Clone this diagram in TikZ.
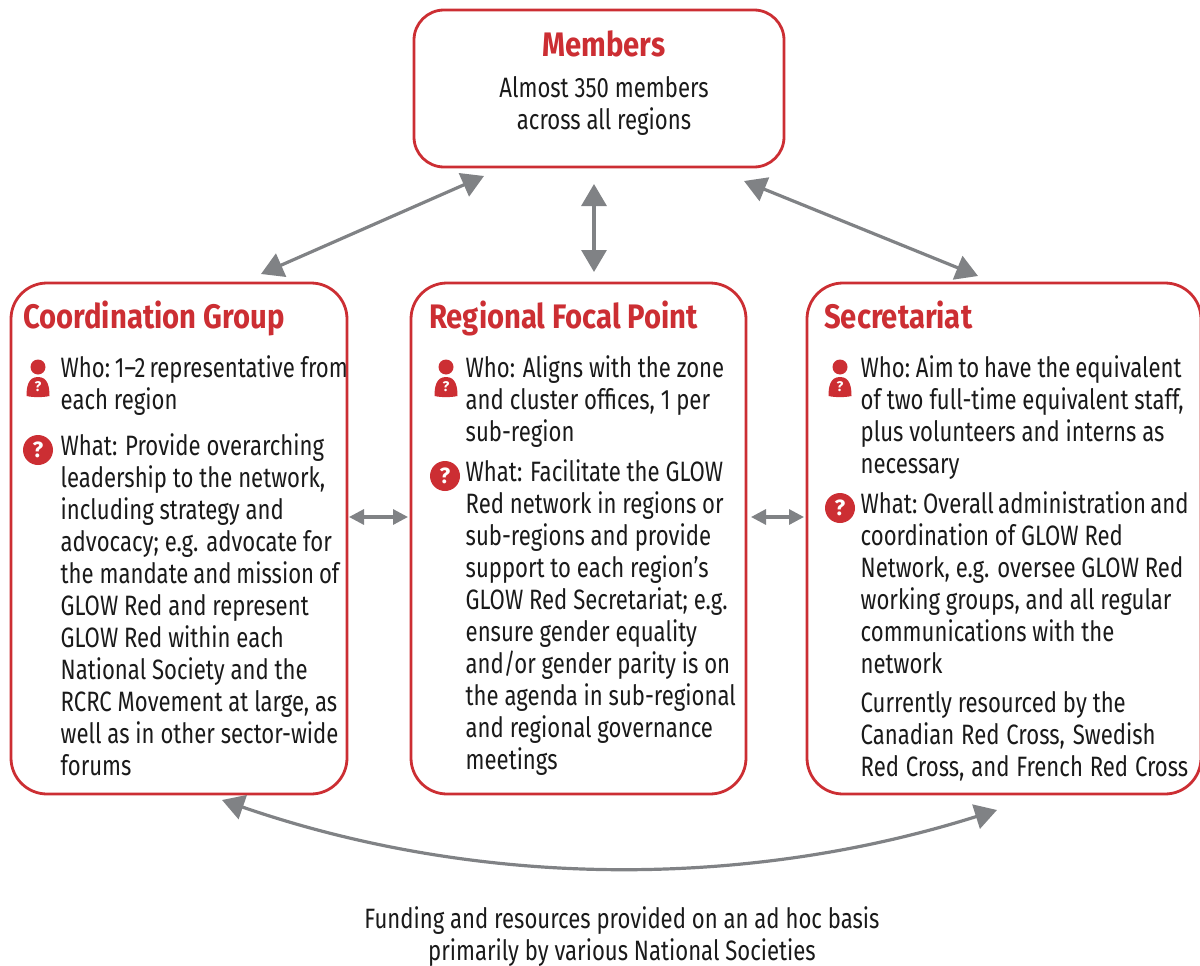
\documentclass[tikz,border=0pt]{standalone}
\usepackage{fontspec}
\usetikzlibrary{arrows.meta,calc}
\setmainfont{Fira Sans}
\newfontfamily\bodyf[FakeStretch=0.79]{Fira Sans}
\newfontfamily\headf[FakeStretch=0.86]{Fira Sans}[BoldFont={Fira Sans Bold}]
\definecolor{glowred}{HTML}{CC2E33}
\definecolor{arrowgrey}{HTML}{808285}
\definecolor{inkc}{HTML}{1A1A1A}
\tikzset{
  panel/.style={draw=glowred,line width=2.8pt,rounded corners=36pt,fill=white,inner sep=0pt,outer sep=0pt},
  title/.style={text=glowred,inner sep=0pt,font=\fontsize{34}{36}\selectfont\headf\bfseries},
  body/.style={text=inkc,inner sep=0pt,anchor=north west,align=left,font=\fontsize{28}{32}\selectfont\bodyf,execute at begin node={\rule{0pt}{22pt}}},
  centred/.style={text=inkc,inner sep=0pt,anchor=north,align=center,font=\fontsize{28}{32}\selectfont\bodyf,execute at begin node={\rule{0pt}{22pt}}},
  bigarrow/.style={draw=arrowgrey,line width=3.2pt,{Triangle[length=22pt,width=25pt]}-{Triangle[length=22pt,width=25pt]}},
  smallarrow/.style={draw=arrowgrey,line width=3.2pt,{Triangle[length=15pt,width=15pt]}-{Triangle[length=15pt,width=15pt]}},
  qmark/.style={text=white,inner sep=0pt,font=\fontsize{#1}{#1}\selectfont\bfseries},
}
\newcommand{\whoicon}[3]{%
  \fill[glowred] (#2,#3) circle[radius=7.5];
  \fill[glowred] (#2-11.5,#3+29) .. controls (#2-11.5,#3+20) and (#2-10,#3+10) .. (#2,#3+10)
     .. controls (#2+10,#3+10) and (#2+11.5,#3+20) .. (#2+11.5,#3+29)
     .. controls (#2+5,#3+30.5) and (#2-5,#3+30.5) .. cycle;
  \node[qmark=14] (#1) at (#2,#3+20) {?};
}
\newcommand{\whaticon}[3]{%
  \fill[glowred] (#2,#3) circle[radius=15];
  \node[qmark=22] (#1) at (#2,#3) {?};
}
\begin{document}
\begin{tikzpicture}[x=1pt,y=-1pt]
\useasboundingbox (0,0) rectangle (1200,966);
\node[panel,minimum width=370pt,minimum height=157pt,rounded corners=30pt] (members) at (599,88.5) {};
\node[panel,minimum width=336pt,minimum height=511pt] (coord) at (179,538.5) {};
\node[panel,minimum width=335pt,minimum height=511pt] (focal) at (578.5,538.5) {};
\node[panel,minimum width=394pt,minimum height=511pt] (secr) at (1004,538.5) {};

\node[title,anchor=base] (t0) at (604,57) {Members};
\node[centred] (t0b) at (604,76) {Almost 350 members\\across all regions};

\node[title,anchor=base west] (t1) at (23,328) {Coordination Group};
\whoicon{w1}{38}{367}
\node[body] (a1) at (60.5,355) {Who:\kern-3pt{} 1–2\kern-2pt{} representative from\\each region};
\whaticon{q1}{38}{450}
\node[body] (b1) at (60.5,433) {What: Provide overarching\\leadership to the network,\\including strategy and\\advocacy; e.g. advocate for\\the mandate\kern-1pt{} and\kern-1pt{} mission\kern-1pt{} of\\GLOW Red and represent\\GLOW Red within each\\National Society and the\\RCRC Movement at large, as\\well as in other sector-wide\\forums};

\node[title,anchor=base west] (t2) at (429,328) {Regional Focal Point};
\whoicon{w2}{446}{367}
\node[body] (a2) at (465.5,355) {Who: Aligns with the zone\\and cluster offices, 1 per\\sub-region};
\whaticon{q2}{445}{476}
\node[body] (b2) at (465.5,459) {What: Facilitate the GLOW\\Red network in regions or\\sub-regions and provide\\support to each region’s\\GLOW Red Secretariat; e.g.\\ensure gender equality\\and/or gender parity is on\\the agenda in sub-regional\\and regional governance\\meetings};

\node[title,anchor=base west] (t3) at (824,328) {Secretariat};
\whoicon{w3}{840}{367}
\node[body] (a3) at (860.5,355) {Who:\kern-2pt{} Aim\kern-1pt{} to\kern-1pt{} have the\kern-1pt{} equivalent\\of two full-time equivalent staff,\\plus volunteers and interns as\\necessary};
\whaticon{q3}{840}{508}
\node[body] (b3) at (860.5,491) {What:\kern-2pt{} Overall\kern-1.5pt{} administration\kern-1.5pt{} and\\coordination of GLOW Red\\Network, e.g. oversee GLOW Red\\working groups, and all regular\\communications with the\\network};
\node[body] (c3) at (860.5,691) {Currently resourced by the\\Canadian\kern1pt{} Red\kern1pt{} Cross,\kern2pt{} Swedish\\Red\kern1pt{} Cross,\kern1pt{} and\kern1pt{} French\kern1pt{} Red\kern1pt{} Cross};

\node[centred] (foot) at (622,906) {Funding and resources provided on an ad hoc basis\\primarily by various National Societies};

\draw[bigarrow] ([shift={(70,9)}]members.south west) -- ([shift={(-86,-9)}]coord.north east);
\draw[bigarrow] ([shift={(-5,17)}]members.south) -- ([shift={(15.5,-11)}]focal.north);
\draw[bigarrow] ([shift={(-40,14)}]members.south east) -- ([shift={(171,-7)}]secr.north west);
\draw[smallarrow] ([shift={(2,517)}]coord.north east |- 0,0) -- ([shift={(-3,517)}]focal.north west |- 0,0);
\draw[smallarrow] ([shift={(5,517)}]focal.north east |- 0,0) -- ([shift={(-3,517)}]secr.north west |- 0,0);
\draw[bigarrow] ([shift={(211,6)}]coord.south west) .. controls (480,889) and (747,889) .. ([shift={(190,16)}]secr.south west);
\end{tikzpicture}
\end{document}
